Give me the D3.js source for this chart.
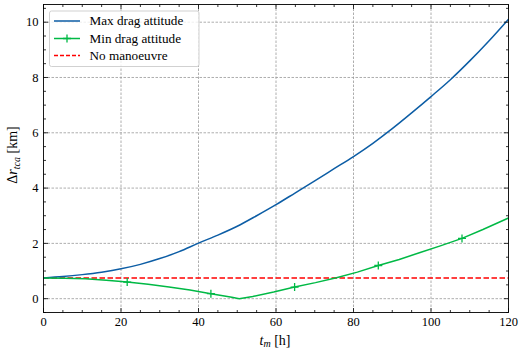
<!DOCTYPE html>
<html><head><meta charset="utf-8">
<script src="https://cdn.jsdelivr.net/npm/d3@7"></script>
<style>body{margin:0;background:#fff}svg{display:block}</style>
</head><body><svg id="c" width="523" height="355"></svg>
<script>
const maxX = [0,5,10,15,20,25,30,35,40,45,50,55,60,65,70,75,80,85,90,95,100,105,110,115,120];
const maxY = [0.75,0.80,0.87,0.96,1.08,1.24,1.45,1.70,2.01,2.30,2.62,3.00,3.40,3.83,4.26,4.70,5.14,5.62,6.15,6.72,7.31,7.92,8.60,9.33,10.11];
const minX = [0,5.4,10.8,16.2,21.6,27,32.4,37.8,43.2,48.6,50.5,54,59.4,64.8,70.2,75.6,81,86.4,91.8,97.2,102.6,108,113.4,120];
const minY = [0.75,0.74,0.72,0.67,0.60,0.52,0.42,0.31,0.18,0.05,0.0,0.08,0.24,0.42,0.58,0.76,0.96,1.20,1.42,1.67,1.92,2.18,2.50,2.92];
const minMarkX = [21.6,43.2,64.8,86.4,108];
const noManX = [0,120];
const noManY = [0.75,0.75];
const xTicks = [0,20,40,60,80,100,120];
const yTicks = [0,2,4,6,8,10];
const legendLabels = ["Max drag attitude","Min drag attitude","No manoeuvre"];

const FONT = "'Liberation Serif', 'Times New Roman', serif";
const svg = d3.select("#c");
const L=43.5, R=508.5, T=4.5, B=312.5;
const x = d3.scaleLinear().domain([0,120]).range([L,R]);
const y = d3.scaleLinear().domain([-0.5,10.64]).range([B,T]);

// grid
const g = svg.append("g");
g.selectAll(".gx").data(xTicks.slice(1,-1)).join("line").attr("x1",d=>x(d)).attr("x2",d=>x(d)).attr("y1",T).attr("y2",B)
 .attr("stroke","#999").attr("stroke-width",0.8).attr("stroke-dasharray","2.5,1.5");
g.selectAll(".gy").data(yTicks).join("line").attr("y1",d=>y(d)).attr("y2",d=>y(d)).attr("x1",L).attr("x2",R)
 .attr("stroke","#999").attr("stroke-width",0.8).attr("stroke-dasharray","2.5,1.5");

// lines
const line = d3.line().x(d=>x(d[0])).y(d=>y(d[1]));
svg.append("path").datum(noManX.map((v,i)=>[v,noManY[i]])).attr("d",line).attr("fill","none")
 .attr("stroke","#ff0000").attr("stroke-width",1.5).attr("stroke-dasharray","5.5,2.5");
svg.append("path").datum(maxX.map((v,i)=>[v,maxY[i]])).attr("d",d3.line().x(d=>x(d[0])).y(d=>y(d[1])).curve(d3.curveMonotoneX)).attr("fill","none")
 .attr("stroke","#0C5DA5").attr("stroke-width",1.5);
const minPts = minX.map((v,i)=>[v,minY[i]]);
svg.append("path").datum(minPts).attr("d",line).attr("fill","none")
 .attr("stroke","#00B945").attr("stroke-width",1.5);
const mk = minPts.filter(p=>minMarkX.includes(p[0]));
svg.selectAll(".mk").data(mk).join("path")
 .attr("d",d=>`M${x(d[0])-4},${y(d[1])}h8M${x(d[0])},${y(d[1])-4}v8`)
 .attr("stroke","#00B945").attr("stroke-width",1.3);

// axes frame
svg.append("rect").attr("x",L).attr("y",T).attr("width",R-L).attr("height",B-T).attr("fill","none").attr("stroke","#000").attr("stroke-width",0.9);
const ax = svg.append("g").attr("stroke","#000").attr("stroke-width",0.8);
const xMinor = d3.range(0,121,5), yMinor = d3.range(-0.5,10.6,0.5);
xMinor.forEach(v=>{const M=v%20===0, l=M?4.5:2.5;
 ax.append("line").attr("x1",x(v)).attr("x2",x(v)).attr("y1",B).attr("y2",B-l);
 ax.append("line").attr("x1",x(v)).attr("x2",x(v)).attr("y1",T).attr("y2",T+l);});
yMinor.forEach(v=>{const M=Math.abs(v/2-Math.round(v/2))<1e-6, l=M?4.5:2.5;
 ax.append("line").attr("y1",y(v)).attr("y2",y(v)).attr("x1",L).attr("x2",L+l);
 ax.append("line").attr("y1",y(v)).attr("y2",y(v)).attr("x1",R).attr("x2",R-l);});

svg.selectAll(".xt").data(xTicks).join("text").attr("x",d=>x(d)).attr("y",326).attr("text-anchor","middle")
 .style("font-family",FONT).attr("font-size",12.5).text(d=>d);
svg.selectAll(".yt").data(yTicks).join("text").attr("x",38.5).attr("y",d=>y(d)+4.2).attr("text-anchor","end")
 .style("font-family",FONT).attr("font-size",12.5).text(d=>d);

// axis labels
const xl = svg.append("text").attr("x",275).attr("y",344.5).attr("text-anchor","middle").attr("font-size",14).style("font-family",FONT);
xl.append("tspan").attr("font-style","italic").text("t");
xl.append("tspan").attr("font-style","italic").attr("font-size",10).attr("dy",2.5).text("m");
xl.append("tspan").attr("dy",-2.5).text(" [h]");
const yl = svg.append("text").attr("transform","translate(17,155) rotate(-90)").attr("text-anchor","middle").attr("font-size",14).style("font-family",FONT);
yl.append("tspan").text("Δ");
yl.append("tspan").attr("font-style","italic").text("r");
yl.append("tspan").attr("font-style","italic").attr("font-size",10).attr("dy",2.5).text("tca");
yl.append("tspan").attr("dy",-2.5).text(" [km]");

// legend
const lg = svg.append("g");
lg.append("rect").attr("x",49.5).attr("y",11).attr("width",149.5).attr("height",55.5).attr("rx",2)
 .attr("fill","#fff").attr("fill-opacity",0.8).attr("stroke","#ccc").attr("stroke-width",0.9);
const cols=["#0C5DA5","#00B945","#ff0000"], rowY=[21,38.5,55.5];
legendLabels.forEach((t,i)=>{
 const ln = lg.append("line").attr("x1",54).attr("x2",80).attr("y1",rowY[i]).attr("y2",rowY[i]).attr("stroke",cols[i]).attr("stroke-width",1.5);
 if(i===2) ln.attr("stroke-dasharray","4,2");
 if(i===1) lg.append("path").attr("d",`M63,${rowY[i]}h8M67,${rowY[i]-4}v8`).attr("stroke",cols[i]).attr("stroke-width",1.3);
 lg.append("text").attr("x",89.5).attr("y",rowY[i]+4.3).attr("font-size",13.2).style("font-family",FONT).text(t);
});
</script></body></html>
